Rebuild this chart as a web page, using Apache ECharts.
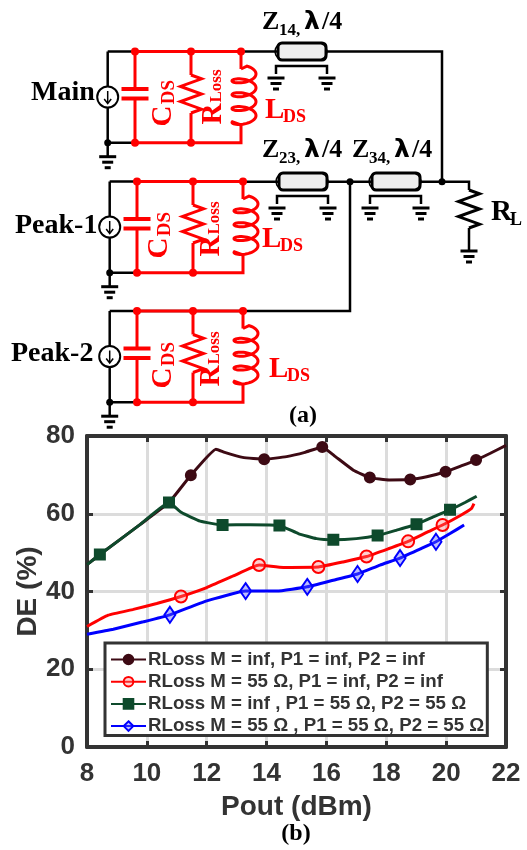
<!DOCTYPE html>
<html><head><meta charset="utf-8">
<style>html,body{margin:0;padding:0;background:#fff}#c{width:527px;height:850px}</style>
<script src="https://cdn.jsdelivr.net/npm/echarts@6/dist/echarts.min.js"></script>
</head><body><div id="c"></div>
<script>
const seriesNames = ['RLoss M = inf, P1 = inf, P2 = inf','RLoss M = 55 Ω, P1 = inf, P2 = inf','RLoss M = inf , P1 = 55 Ω, P2 = 55 Ω','RLoss M = 55 Ω , P1 = 55 Ω, P2 = 55 Ω'];
const xTicks = [8,10,12,14,16,18,20,22];
const yTicks = [0,20,40,60,80];

const brownX = [8,8.43,9.77,10.74,11.47,12.31,12.6,13.2,13.92,14.67,15.28,15.86,16.3,16.9,17.45,18.1,18.8,19.35,19.98,20.5,21,21.46,22];
const brownY = [46.9,49.5,57.2,62.9,69.9,76.6,75.8,74.5,74,74.7,75.8,77.2,74.7,71.2,69.3,68.7,68.8,69.5,70.8,72.3,73.8,75.5,77.6];
const brownMarks = [11.47,13.92,15.86,17.45,18.8,19.98,21];

const redX = [8,8.71,9.55,10.33,11.14,12,12.89,13.75,14.56,15.73,16.56,17.34,18.07,18.73,19.35,19.88,20.46,20.85,20.93];
const redY = [31,33.9,35.4,36.9,38.7,41,44,46.8,46.2,46.3,47.6,49,51,52.9,55.2,57.1,59.5,61.4,62.6];
const redMarks = [11.14,13.75,15.73,17.34,18.73,19.88];

const greenX = [8,8.43,9.77,10.74,11.16,11.78,12.53,13.45,14.43,15.06,15.67,16.23,17,17.71,18.35,19.01,19.57,20.13,20.63,21.02];
const greenY = [46.9,49.5,57.2,62.9,60.3,58.1,57.1,57.2,57,54.9,53.6,53.3,53.6,54.4,55.8,57.3,59.2,61,62.9,64.5];
const greenMarks = [8.43,10.74,12.53,14.43,16.23,17.71,19.01,20.13];

const blueX = [8,8.88,9.88,10.77,12,13.3,14.34,15.36,16.23,17.04,17.79,18.46,19.12,19.66,20.13,20.6];
const blueY = [29,30.3,32.2,34,37.6,40.1,40.1,41.2,42.9,44.5,46.8,48.6,50.9,52.8,54.9,57.1];
const blueMarks = [10.77,13.3,15.36,17.04,18.46,19.66];

const BLACK='#000', RED='#f00', DARK='#333';
const els=[];
function line(pts,color,w,z){els.push({type:'polyline',shape:{points:pts},style:{stroke:color,lineWidth:w||2.5,fill:null},z:z||5});}
function dot(x,y,color,r){els.push({type:'circle',shape:{cx:x,cy:y,r:r||4},style:{fill:color},z:6});}
function txt(s,x,y,size,color,rot,font,align){els.push({type:'text',x:x,y:y,rotation:rot||0,z:7,
  style:{text:s,fill:color,font:'bold '+size+'px '+(font||'"Liberation Serif"'),align:align||'left',verticalAlign:'middle'}});}
function zigzag(x,y,h,w,color){
  const p=[[x,y]],n=5,st=h/n;
  for(let i=0;i<n;i++){p.push([x+(i%2?-w:w),y+st*(i+0.5)]);}
  p.push([x,y+h]);line(p,color,3);
}
function coil(x,y0,h,color){
  const pts=[],turns=3.75;
  pts.push([x,y0]);
  for(let i=0;i<=150;i++){const t=-Math.PI/2+0.25+i/150*turns*2*Math.PI;
    pts.push([x+3+12*Math.cos(t),y0+2+(h-4)*i/150+5*Math.sin(t)]);}
  pts.push([x,y0+h]);
  line(pts,color,3);
}
function ground(x,y){line([[x-8.5,y],[x+8.5,y]],BLACK,3);line([[x-5.5,y+5.5],[x+5.5,y+5.5]],BLACK,3);line([[x-3,y+11],[x+3,y+11]],BLACK,3);}
function tline(x,y){
  els.push({type:'rect',shape:{x:x,y:y,width:48,height:17,r:4},style:{fill:'#eee',stroke:BLACK,lineWidth:3},z:6});
  els.push({type:'arc',shape:{cx:x+5,cy:y+8.5,r:8,startAngle:Math.PI*0.6,endAngle:Math.PI*1.4},style:{stroke:BLACK,fill:null,lineWidth:1.5},z:7});
  els.push({type:'arc',shape:{cx:x+41,cy:y+8.5,r:8,startAngle:-Math.PI*0.4,endAngle:Math.PI*0.4},style:{stroke:BLACK,fill:null,lineWidth:1.5},z:7});
  line([[x-2,y+31],[x-2,y+23],[x+49,y+23],[x+49,y+31]],BLACK,2.5);
  ground(x-2,y+35);ground(x+49,y+35);
}
function branch(dx,dy,leftEnd){
  const T=51.5+dy,B=142.7+dy,L=107.7+dx,C=135+dx,R=191+dx,I=241+dx,M=97+dy;
  line([[leftEnd,T],[I,T]],BLACK,2.5);
  line([[C,T],[I,T]],RED,3);
  line([[L,T],[L,B],[C,B]],BLACK,2.5);
  line([[C,B],[I,B],[I,B-18]],RED,3);
  line([[C,T],[C,89+dy]],RED,3);line([[C,98+dy],[C,B]],RED,3);
  els.push({type:'rect',shape:{x:C-13.5,y:87+dy,width:27,height:4},style:{fill:RED},z:6});
  els.push({type:'rect',shape:{x:C-13.5,y:96.5+dy,width:27,height:4},style:{fill:RED},z:6});
  line([[R,T],[R,75+dy]],RED,3);zigzag(R,75+dy,38,10.5,RED);line([[R,113+dy],[R,B]],RED,3);
  line([[I,T],[I,69+dy]],RED,3);coil(I,69+dy,56,RED);
  [C,R,I].forEach(x=>{dot(x,T,RED);});
  [C,R].forEach(x=>{dot(x,B,RED);});
  dot(L,B,BLACK,3.5);
  line([[L,B],[L,B+14]],BLACK,2.5);ground(L,B+14);
  els.push({type:'circle',shape:{cx:L,cy:M,r:10.5},style:{fill:'#fff',stroke:BLACK,lineWidth:2},z:6});
  line([[L,M-6],[L,M+6]],BLACK,1.5,7);line([[L-3.5,M+2],[L,M+6.5],[L+3.5,M+2]],BLACK,1.5,7);
}
function cds(x,y){txt('C',x,y,29,RED,Math.PI/2,null,'center');txt('DS',x+5,y-24,19,RED,Math.PI/2,null,'center');}
function rloss(x,y){txt('R',x,y,29,RED,Math.PI/2,null,'center');txt('Loss',x+3,y-28,17,RED,Math.PI/2,null,'center');}
function lds(x,y){txt('L',x,y,29,RED);txt('DS',x+18,y+6,18,RED);}
function zlabel(sub,x,y){txt('Z',x,y,26,BLACK);txt(sub,x+17,y+9,17,BLACK);txt('λ',x+42,y,25,BLACK,0,'"DejaVu Sans"');txt('/4',x+60,y,26,BLACK);}

branch(0,0,107.7);branch(2,130,109.7);branch(2,259.5,109.7);
line([[241,51.5],[280,51.5]],BLACK,2.5);
line([[326,51.5],[442,51.5],[442,181.7]],BLACK,2.5);
line([[245,181.7],[373,181.7]],BLACK,2.5);
line([[420,181.7],[469,181.7],[469,190]],BLACK,2.5);
line([[350,181.7],[350,311],[243,311]],BLACK,2.5);
dot(350,181.7,BLACK,3.5);dot(442,181.7,BLACK,3.5);
tline(278,43);tline(279,173);tline(372,173);
zigzag(469,190,38,10.5,BLACK);line([[469,228],[469,251]],BLACK,2.5);ground(469,251);
zlabel('14,',262,22);zlabel('23,',262,150);zlabel('34,',352,150);
txt('Main',31,93,28,BLACK);txt('Peak-1',15,226,28,BLACK);txt('Peak-2',11,354,28,BLACK);
cds(164,116);cds(160,248);cds(164,378);
rloss(214,114);rloss(212,246);rloss(212,376);
lds(265,111);lds(262,240);lds(269,370);
txt('R',491,213,29,BLACK);txt('L',510,220,18,BLACK);
txt('(a)',303,416,24,BLACK,0,null,'center');
txt('(b)',296,834,24,BLACK,0,null,'center');

function build(xs,ys,marks,sym){
  return xs.map((x,i)=>({value:[x,ys[i]],symbol:marks.includes(x)?sym:'none'}));
}
const configs=[
 {x:brownX,y:brownY,m:brownMarks,sym:'circle',size:10,color:'#3d0a14',fill:'#3d0a14'},
 {x:redX,y:redY,m:redMarks,sym:'circle',size:12,color:'#ff0000',fill:'rgba(255,120,120,0.35)'},
 {x:greenX,y:greenY,m:greenMarks,sym:'rect',size:10,color:'#0e4a2c',fill:'#0e4a2c'},
 {x:blueX,y:blueY,m:blueMarks,sym:'diamond',size:[11,16],color:'#0000ff',fill:'rgba(90,90,255,0.4)'}
];
const axisText={color:DARK,fontFamily:'"Liberation Sans"',fontWeight:'bold',fontSize:26};
const axisLine={show:true,onZero:false,lineStyle:{color:DARK,width:4}};
const tick={show:true,inside:true,length:6,lineStyle:{color:DARK,width:3}};
const split={show:true,lineStyle:{color:'#dcdcdc',width:3}};
const option={
 animation:false,backgroundColor:'#fff',
 grid:{left:87,top:436,width:419,height:311,outerBoundsMode:'none'},
 graphic:{elements:els},
 legend:{orient:'vertical',left:105,top:643,itemGap:3.2,itemWidth:35,itemHeight:12,padding:[7,3,0,5],
   backgroundColor:'#fff',borderColor:DARK,borderWidth:3,borderRadius:0,align:'left',
   textStyle:{color:DARK,fontFamily:'"Liberation Sans"',fontWeight:'bold',fontSize:18.7,lineHeight:18,padding:[0,0,0,-3]},
   data:seriesNames},
 xAxis:[
  {type:'value',min:8,max:22,interval:2,position:'bottom',axisLine,axisTick:tick,splitLine:split,
   axisLabel:{...axisText,margin:14,showMinLabel:true,showMaxLabel:true,hideOverlap:false},
   name:'Pout (dBm)',nameLocation:'middle',nameGap:46,nameMoveOverlap:false,nameTextStyle:{...axisText,fontSize:28}},
  {type:'value',min:8,max:22,interval:2,position:'top',axisLine,axisTick:tick,splitLine:{show:false},axisLabel:{show:false}}
 ],
 yAxis:[
  {type:'value',min:0,max:80,interval:20,position:'left',axisLine,axisTick:tick,splitLine:split,
   axisLabel:{...axisText,margin:12},
   name:'DE (%)',nameLocation:'middle',nameGap:45,nameMoveOverlap:false,nameTextStyle:{...axisText,fontSize:28}},
  {type:'value',min:0,max:80,interval:20,position:'right',axisLine,axisTick:tick,splitLine:{show:false},axisLabel:{show:false}}
 ],
 series:configs.map((c,i)=>({
   name:seriesNames[i],type:'line',smooth:0.12,symbol:c.sym,symbolSize:c.size,showSymbol:true,showAllSymbol:true,
   clip:true,lineStyle:{color:c.color,width:3},
   itemStyle:{color:c.fill,borderColor:c.color,borderWidth:2},
   data:build(c.x,c.y,c.m,c.sym),z:3+i
 }))
};
echarts.init(document.getElementById('c'),null,{renderer:'canvas'}).setOption(option);
</script></body></html>
